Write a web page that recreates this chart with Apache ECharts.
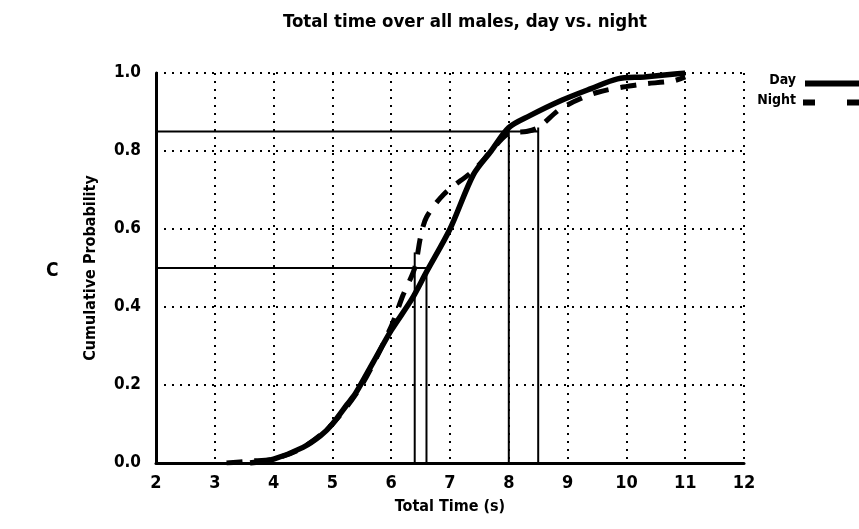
<!DOCTYPE html>
<html>
<head>
<meta charset="utf-8">
<title>Total time over all males, day vs. night</title>
<script src="https://cdn.jsdelivr.net/npm/echarts@6/dist/echarts.min.js"></script>
<style>
  html, body { margin: 0; padding: 0; background: #fff; }
  #chart { width: 859px; height: 529px; }
</style>
</head>
<body>
<div id="chart"></div>
<script>
// Cumulative distributions of total time (s)
const dayTime   = [3.6, 4.0, 4.5, 4.8, 5.0, 5.25, 5.4, 5.7, 6.0, 6.35, 6.6, 7.0, 7.4, 7.7, 8.0, 8.35, 8.9, 9.4, 9.85, 10.3, 11.0];
const dayProb   = [0.0, 0.01, 0.04, 0.07, 0.10, 0.15, 0.18, 0.26, 0.34, 0.42, 0.49, 0.60, 0.74, 0.80, 0.86, 0.89, 0.93, 0.96, 0.985, 0.99, 1.0];
const nightTime = [3.2, 3.6, 4.0, 4.5, 5.0, 5.5, 6.0, 6.2, 6.4, 6.5, 6.6, 6.9, 7.4, 7.7, 8.0, 8.3, 8.5, 8.9, 9.5, 10.2, 10.8, 11.0];
const nightProb = [0.0, 0.005, 0.01, 0.04, 0.10, 0.20, 0.35, 0.43, 0.50, 0.58, 0.63, 0.69, 0.75, 0.80, 0.845, 0.85, 0.86, 0.91, 0.95, 0.97, 0.98, 0.99];

// Quantile guide lines: horizontal levels and the times where they are read
const hGuides = [ { prob: 0.5, to: 6.6 }, { prob: 0.85, to: 8.5 } ];
const vGuides = [ { time: 6.4, top: 0.54 }, { time: 6.6, top: 0.5 }, { time: 8.0, top: 0.85 }, { time: 8.5, top: 0.86 } ];

const xTicks = [2, 3, 4, 5, 6, 7, 8, 9, 10, 11, 12];
const yTicks = [0.0, 0.2, 0.4, 0.6, 0.8, 1.0];
const seriesNames = ['Day', 'Night'];

const FONT = "'DejaVu Sans Condensed', 'Liberation Sans Narrow', sans-serif";

const zip = (xs, ys) => xs.map((x, i) => [x, ys[i]]);

const guideStyle = { color: '#000', width: 2 };
const guideSeries = [];
hGuides.forEach(g => guideSeries.push({
  type: 'line', data: [[xTicks[0], g.prob], [g.to, g.prob]],
  symbol: 'none', silent: true, lineStyle: guideStyle, z: 3
}));
vGuides.forEach(g => guideSeries.push({
  type: 'line', data: [[g.time, 0], [g.time, g.top]],
  symbol: 'none', silent: true, lineStyle: guideStyle, z: 3
}));

// Key in the top right corner: right-aligned names with line samples
const keyGraphics = [
  { type: 'text', right: 63, top: 73,
    style: { text: seriesNames[0], font: "bold 14px " + FONT, fill: '#000' } },
  { type: 'line', shape: { x1: 805, y1: 83.5, x2: 870, y2: 83.5 },
    style: { stroke: '#000', lineWidth: 6 } },
  { type: 'text', right: 63, top: 93,
    style: { text: seriesNames[1], font: "bold 14px " + FONT, fill: '#000' } },
  { type: 'line', shape: { x1: 803, y1: 102.5, x2: 870, y2: 102.5 },
    style: { stroke: '#000', lineWidth: 6, lineDash: [12, 32] } }
];

const chart = echarts.init(document.getElementById('chart'), null, { renderer: 'canvas' });
chart.setOption({
  animation: false,
  backgroundColor: '#fff',
  title: {
    text: 'Total time over all males, day vs. night',
    left: 460, top: 8, textAlign: 'center',
    textStyle: { fontFamily: FONT, fontWeight: 'bold', fontSize: 18.5, color: '#000' }
  },
  graphic: [{
    type: 'text', left: 46, top: 262,
    style: { text: 'C', font: "bold 19px " + FONT, fill: '#000' }
  }].concat(keyGraphics),
  grid: { left: 156, right: 115, top: 73, bottom: 66 },
  xAxis: {
    type: 'value', min: 2, max: 12, interval: 1,
    name: 'Total Time (s)', nameLocation: 'middle', nameGap: 36, nameMoveOverlap: false,
    nameTextStyle: { fontFamily: FONT, fontWeight: 'bold', fontSize: 16, color: '#000' },
    axisLine: { lineStyle: { color: '#000', width: 3 } },
    axisTick: { show: false },
    axisLabel: {
      margin: 11, color: '#000', fontFamily: FONT, fontWeight: 'bold', fontSize: 18,
      formatter: v => xTicks.includes(v) ? String(v) : ''
    },
    splitLine: { show: true, lineStyle: { color: '#000', width: 2, type: [2, 6] } }
  },
  yAxis: {
    type: 'value', min: 0, max: 1, interval: 0.2,
    name: 'Cumulative Probability', nameLocation: 'middle', nameGap: 57, nameMoveOverlap: false,
    nameTextStyle: { fontFamily: FONT, fontWeight: 'bold', fontSize: 16, color: '#000' },
    axisLine: { show: true, lineStyle: { color: '#000', width: 3 } },
    axisTick: { show: false },
    axisLabel: {
      margin: 15, color: '#000', fontFamily: FONT, fontWeight: 'bold', fontSize: 17,
      formatter: v => yTicks.find(t => Math.abs(t - v) < 1e-9).toFixed(1)
    },
    splitLine: { show: true, lineStyle: { color: '#000', width: 2, type: [2, 6] } }
  },
  series: [
    {
      name: seriesNames[0], type: 'line', data: zip(dayTime, dayProb),
      smooth: 0.3, symbol: 'none', z: 5,
      lineStyle: { color: '#000', width: 5.5 }
    },
    {
      name: seriesNames[1], type: 'line', data: zip(nightTime, nightProb),
      smooth: 0.3, symbol: 'none', z: 4,
      lineStyle: { color: '#000', width: 5, type: [16, 12] }
    }
  ].concat(guideSeries)
});
</script>
</body>
</html>
